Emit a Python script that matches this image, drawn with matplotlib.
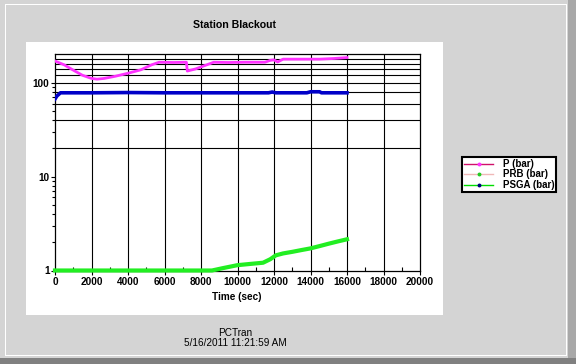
import matplotlib
matplotlib.use("Agg")
import matplotlib.pyplot as plt
from matplotlib.patches import Rectangle
from matplotlib.lines import Line2D
from matplotlib.ticker import FixedLocator, NullFormatter, FixedFormatter

# ---- data ----
p_t = [0, 500, 1000, 1500, 2000, 2300, 2700, 3300, 4000, 4700, 5300, 5700, 6500,
       7200, 7250, 7700, 8200, 8700, 9500, 10500, 11500, 11800, 12000, 12200,
       12500, 13500, 14500, 15300, 16000]
p_v = [170, 155, 136, 120, 111, 109, 111, 117, 126, 137, 155, 165, 164,
       165, 133, 140, 152, 165, 164, 165, 165, 173, 175, 166,
       178, 178, 178, 181, 185]

prb_t = [0, 8600, 9200, 10000, 10800, 11400, 11800, 12100, 12500, 13000, 13500,
         14000, 14500, 15000, 15500, 16000]
prb_v = [1.0, 1.0, 1.06, 1.14, 1.18, 1.21, 1.32, 1.45, 1.52, 1.58, 1.65,
         1.72, 1.82, 1.93, 2.04, 2.15]

psga_t = [0, 100, 300, 2000, 4000, 6000, 8000, 10000, 11700, 11900, 12100,
          13800, 14000, 14500, 14600, 16000]
psga_v = [67, 72, 78, 78, 78.5, 78, 78, 78, 78, 79.5, 78,
          78, 80, 80, 78, 78]

series_labels = ["P (bar)", "PRB (bar)", "PSGA (bar)"]
x_ticks = list(range(0, 20001, 2000))
y_ticks = [1, 10, 100]
title = "Station Blackout"
xlabel = "Time (sec)"
footer1 = "PCTran"
footer2 = "5/16/2011 11:21:59 AM"

W, H = 576, 364
fig = plt.figure(figsize=(W / 100, H / 100), dpi=100)
fig.patch.set_facecolor("#d4d4d4")

def px_rect(x0, y0, x1, y1, color, z=-5):
    fig.patches.append(Rectangle((x0 / W, 1 - y1 / H), (x1 - x0) / W, (y1 - y0) / H,
                                 transform=fig.transFigure, facecolor=color,
                                 edgecolor="none", zorder=z))

# window frame
px_rect(0, 358, W, H, "#808080")
px_rect(568, 0, W, 358, "#a8a8a8")
px_rect(5, 4, 567, 5, "#ffffff")
px_rect(5, 4, 6, 356, "#ffffff")
px_rect(5, 355, 567, 356, "#ffffff")
px_rect(566, 4, 567, 356, "#ffffff")
# white chart panel
px_rect(26, 42, 443, 315, "#ffffff")

ax = fig.add_axes([55 / W, 1 - 270.5 / H, (420 - 55) / W, (270.5 - 54.4) / H])
ax.set_zorder(2)
ax.set_facecolor("white")
ax.set_yscale("log")
ax.set_xlim(0, 20000)
ax.set_ylim(1, 200)

# grid
for yv in range(20, 200, 20):
    ax.axhline(yv, color="black", lw=0.8, zorder=1)
for xv in x_ticks[1:-1]:
    ax.axvline(xv, color="black", lw=0.8, zorder=1)

ax.plot(p_t, p_v, color="#ff33ff", lw=2, zorder=3)
ax.plot(psga_t, psga_v, color="#0000c8", lw=2.6, zorder=3)
ax.plot(prb_t, prb_v, color="#22ee22", lw=3, zorder=4, clip_on=False)

for s in ax.spines.values():
    s.set_linewidth(0.9)
    s.set_color("black")

font = dict(family="Liberation Sans", weight="bold")
ax.xaxis.set_major_locator(FixedLocator(x_ticks))
ax.xaxis.set_minor_locator(FixedLocator(list(range(1000, 20000, 2000))))
ax.set_xticklabels([str(v) for v in x_ticks], fontsize=7.2, **font)
ax.yaxis.set_major_locator(FixedLocator(y_ticks))
ax.yaxis.set_major_formatter(FixedFormatter([str(v) for v in y_ticks]))
minor_y = [m * d for d in (1, 10, 100) for m in range(2, 10) if m * d < 200]
ax.yaxis.set_minor_locator(FixedLocator(minor_y))
ax.yaxis.set_minor_formatter(NullFormatter())
for lab in ax.get_yticklabels():
    lab.set_fontsize(7.2)
    lab.set_family("Liberation Sans")
    lab.set_weight("bold")
ax.tick_params(axis="x", which="major", direction="out", length=3, width=0.8, pad=2)
ax.tick_params(axis="x", which="minor", direction="in", length=3, width=0.8)
ax.tick_params(axis="y", which="major", direction="out", length=3, width=0.8, pad=1)
ax.tick_params(axis="y", which="minor", direction="out", length=2, width=0.8)

fig.text(234.5 / W, 1 - 25 / H, title, ha="center", va="center", fontsize=7.6, **font)
fig.text(237 / W, 1 - 297 / H, xlabel, ha="center", va="center", fontsize=7.2, **font)
fig.text(235 / W, 1 - 333 / H, footer1, ha="center", va="center", fontsize=7.2,
         family="Liberation Sans")
fig.text(235 / W, 1 - 343 / H, footer2, ha="center", va="center", fontsize=7.2,
         family="Liberation Sans")

handles = [
    Line2D([], [], color="#d0106a", lw=1, marker="o", markersize=1.8,
           markerfacecolor="#ff33ff", markeredgecolor="#ff33ff"),
    Line2D([], [], color="#f0b8b8", lw=1, marker="o", markersize=1.8,
           markerfacecolor="#22cc22", markeredgecolor="#22cc22"),
    Line2D([], [], color="#00dd00", lw=1, marker="o", markersize=1.8,
           markerfacecolor="#000080", markeredgecolor="#000080"),
]
leg = fig.legend(handles, series_labels, loc="upper left",
                 bbox_to_anchor=(462 / W, 1 - 157 / H), bbox_transform=fig.transFigure,
                 prop=dict(family="Liberation Sans", weight="bold", size=7),
                 fancybox=False, framealpha=1, edgecolor="black",
                 handlelength=3.0, handletextpad=1.0, borderpad=0.2,
                 labelspacing=0.05, borderaxespad=0)
leg.get_frame().set_linewidth(1.5)

fig.savefig("out.png", dpi=100, facecolor=fig.get_facecolor())
